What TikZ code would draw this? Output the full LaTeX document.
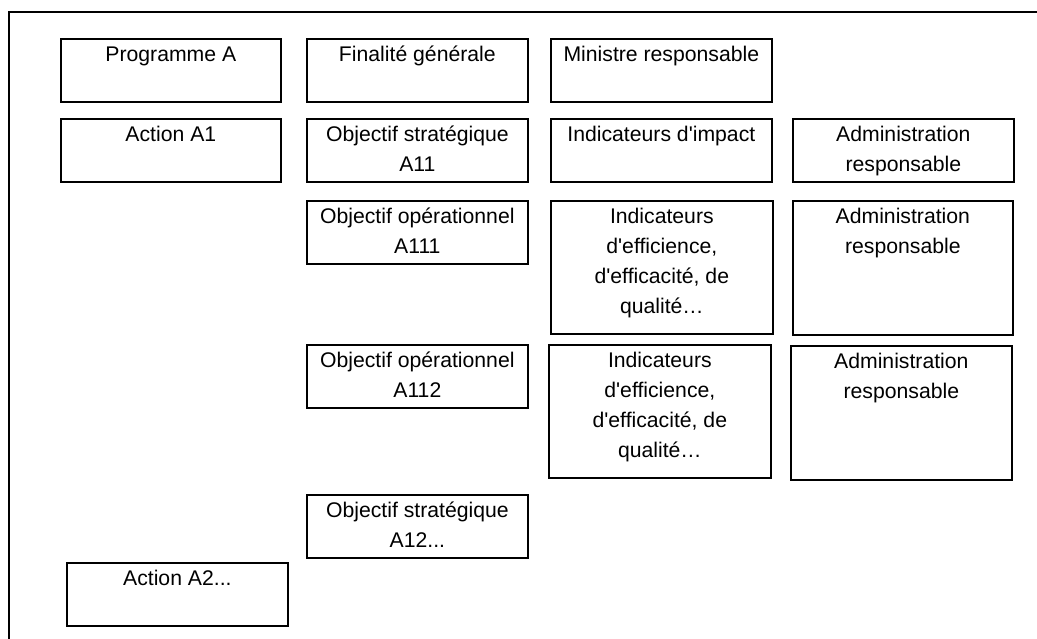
\documentclass[tikz,border=0pt]{standalone}
\usepackage{fontspec}
\newfontfamily\cellfont{Liberation Sans}
\usetikzlibrary{positioning}

\begin{document}
\begin{tikzpicture}[x=1pt,y=-1pt,
    cell/.style={draw,line width=1.7pt,anchor=north west,inner sep=0pt,
        font=\cellfont\fontsize{21.2}{30}\selectfont},
    frame/.style={line width=1.7pt}]
\useasboundingbox (0,0) rectangle (1037,639);
\clip (0,0) rectangle (1037,639);
\draw [frame] (9,660) -- (9,12) -- (1060,12);
\node [cell] (programme) at (60,38) {\parbox[c][63pt][t]{220pt}{\centering\vspace*{2pt}\strut Programme A}};
\node [cell] (finalite) at (306,38) {\parbox[c][63pt][t]{221pt}{\centering\vspace*{2pt}\strut Finalité générale}};
\node [cell] (ministre) at (550,38) {\parbox[c][63pt][t]{221pt}{\centering\vspace*{2pt}\strut Ministre responsable}};
\node [cell] (action-a1) at (60,118) {\parbox[c][63pt][t]{220pt}{\centering\vspace*{2pt}\strut Action A1}};
\node [cell] (obj-a11) at (306,118) {\parbox[c][63pt][t]{221pt}{\centering\vspace*{2pt}\strut Objectif stratégique\\A11}};
\node [cell] (ind-a11) at (550,118) {\parbox[c][63pt][t]{221pt}{\centering\vspace*{2pt}\strut Indicateurs d'impact}};
\node [cell] (admin-a11) at (792,118) {\parbox[c][63pt][t]{221pt}{\centering\vspace*{2pt}\strut Administration\\responsable}};
\node [cell] (obj-a111) at (306,200) {\parbox[c][63pt][t]{221pt}{\centering\vspace*{2pt}\strut Objectif opérationnel\\A111}};
\node [cell] (ind-a111) at (550,200) {\parbox[c][133pt][t]{222pt}{\centering\vspace*{2pt}\strut Indicateurs\\d'efficience,\\d'efficacité, de\\qualité…}};
\node [cell] (admin-a111) at (792,200) {\parbox[c][134pt][t]{220pt}{\centering\vspace*{2pt}\strut Administration\\responsable}};
\node [cell] (obj-a112) at (306,344) {\parbox[c][63pt][t]{221pt}{\centering\vspace*{2pt}\strut Objectif opérationnel\\A112}};
\node [cell] (ind-a112) at (548,344) {\parbox[c][133pt][t]{222pt}{\centering\vspace*{2pt}\strut Indicateurs\\d'efficience,\\d'efficacité, de\\qualité…}};
\node [cell] (admin-a112) at (790,345) {\parbox[c][134pt][t]{221pt}{\centering\vspace*{2pt}\strut Administration\\responsable}};
\node [cell] (obj-a12) at (306,494) {\parbox[c][63pt][t]{221pt}{\centering\vspace*{2pt}\strut Objectif stratégique\\A12...}};
\node [cell] (action-a2) at (66,562) {\parbox[c][63pt][t]{221pt}{\centering\vspace*{2pt}\strut Action A2...}};
\end{tikzpicture}
\end{document}
